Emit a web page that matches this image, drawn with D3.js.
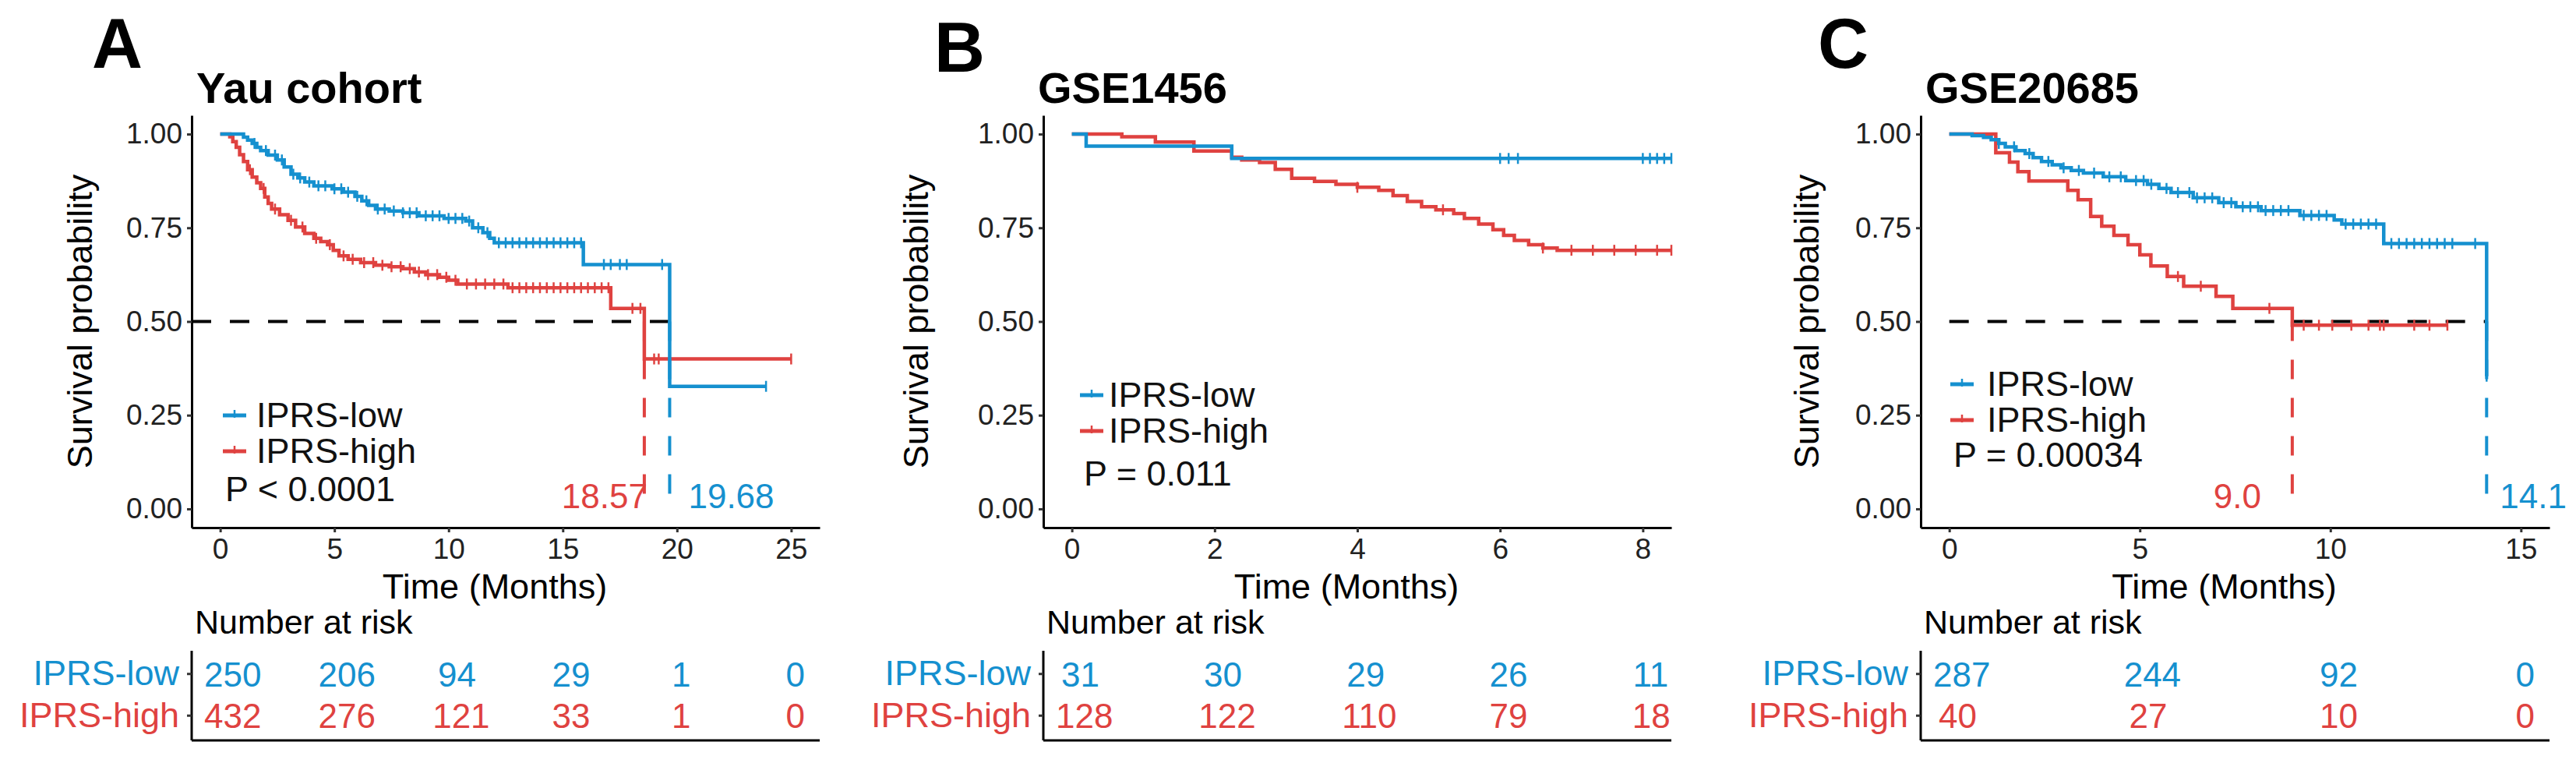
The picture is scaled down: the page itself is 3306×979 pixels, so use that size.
<!DOCTYPE html>
<html>
<head>
<meta charset="utf-8">
<script src="https://cdn.jsdelivr.net/npm/d3@7"></script>
<style>
  body { margin: 0; background: #fff; }
  text { font-family: 'Liberation Sans', Arial, sans-serif; }
</style>
</head>
<body>
<svg id="chart" width="3306" height="979"></svg>
<script>
const BLUE = '#1590cf'
const RED = '#df4240'
const groups = ['IPRS-low', 'IPRS-high']
const yTicks = [0, 0.25, 0.5, 0.75, 1]

// A: Yau cohort  ([time, survival] after each step)
const yauLowSteps = [[0, 1], [1.02, 0.992], [1.2, 0.984], [1.4, 0.975], [1.6, 0.965], [1.77, 0.956], [2.1, 0.944],
  [2.5, 0.931], [2.8, 0.912], [3.1, 0.893], [3.4, 0.883], [3.7, 0.872], [4.1, 0.862], [4.9, 0.854], [5.4, 0.845],
  [5.9, 0.834], [6.2, 0.822], [6.5, 0.81], [6.8, 0.8], [7.4, 0.795], [8.0, 0.79], [8.7, 0.782], [9.8, 0.775],
  [10.75, 0.768], [11.05, 0.75], [11.5, 0.737], [11.8, 0.722], [12.0, 0.71], [15.9, 0.652], [19.68, 0.327]]
const yauLowCensor = [1.5, 2.0, 2.4, 2.7, 3.2, 3.5, 3.9, 4.3, 4.6, 5.0, 5.3, 5.6, 6.0, 6.4, 6.9, 7.2, 7.6, 8.0, 8.3,
  8.6, 9.0, 9.3, 9.6, 10.0, 10.3, 10.6, 10.9, 11.3, 11.7, 12.2, 12.5, 12.8, 13.1, 13.4, 13.7, 14.0, 14.3, 14.6,
  14.9, 15.2, 15.5, 15.8, 16.8, 17.1, 17.5, 17.8, 19.35, 23.9]
const yauLowEnd = 23.9
const yauHighSteps = [[0, 1], [0.42, 0.993], [0.55, 0.98], [0.7, 0.965], [0.85, 0.945], [1.02, 0.927], [1.2, 0.905],
  [1.4, 0.885], [1.6, 0.87], [1.77, 0.855], [1.95, 0.832], [2.1, 0.815], [2.25, 0.8], [2.6, 0.785], [2.97, 0.77],
  [3.3, 0.752], [3.7, 0.735], [4.1, 0.722], [4.4, 0.713], [4.7, 0.705], [4.95, 0.69], [5.2, 0.675], [5.6, 0.666],
  [6.15, 0.657], [6.8, 0.65], [7.4, 0.646], [8.0, 0.641], [8.5, 0.632], [9.0, 0.625], [9.6, 0.618], [10.0, 0.61],
  [10.4, 0.6], [12.6, 0.59], [17.1, 0.535], [18.57, 0.4]]
const yauHighCensor = [1.3, 1.9, 2.4, 3.1, 3.6, 4.2, 4.8, 5.4, 5.8, 6.3, 6.7, 7.1, 7.5, 7.9, 8.3, 8.7, 9.1, 9.5, 9.9,
  10.3, 10.8, 11.2, 11.6, 12.0, 12.4, 12.8, 13.1, 13.4, 13.7, 14.0, 14.3, 14.6, 14.9, 15.2, 15.5, 15.8, 16.1, 16.4,
  16.7, 17.0, 18.05, 18.4, 19.0, 19.2, 25.0]
const yauHighEnd = 25.0
const yauMedians = [19.68, 18.57]
const yauTimes = [0, 5, 10, 15, 20, 25]
const yauRiskLow = [250, 206, 94, 29, 1, 0]
const yauRiskHigh = [432, 276, 121, 33, 1, 0]

// B: GSE1456
const gse1456LowSteps = [[0, 1], [0.2, 0.968], [2.24, 0.935]]
const gse1456LowCensor = [6.0, 6.12, 6.25, 8.0, 8.1, 8.2, 8.3, 8.4]
const gse1456LowEnd = 8.4
const gse1456HighSteps = [[0, 1], [0.7, 0.993], [1.17, 0.979], [1.71, 0.955], [2.24, 0.938], [2.38, 0.931],
  [2.63, 0.924], [2.85, 0.906], [3.08, 0.882], [3.4, 0.874], [3.7, 0.866], [4.0, 0.858], [4.3, 0.85], [4.5, 0.836],
  [4.7, 0.82], [4.9, 0.806], [5.1, 0.798], [5.35, 0.788], [5.5, 0.775], [5.7, 0.76], [5.9, 0.745], [6.05, 0.73],
  [6.2, 0.716], [6.4, 0.705], [6.6, 0.696], [6.8, 0.69]]
const gse1456HighCensor = [4.0, 5.2, 6.6, 7.0, 7.3, 7.6, 7.9, 8.2, 8.4]
const gse1456HighEnd = 8.4
const gse1456Times = [0, 2, 4, 6, 8]
const gse1456RiskLow = [31, 30, 29, 26, 11]
const gse1456RiskHigh = [128, 122, 110, 79, 18]

// C: GSE20685
const gse20685LowSteps = [[0, 1], [0.6, 0.996], [0.9, 0.991], [1.1, 0.985], [1.3, 0.975], [1.47, 0.966],
  [1.75, 0.956], [1.99, 0.948], [2.2, 0.937], [2.42, 0.927], [2.7, 0.918], [2.93, 0.91], [3.2, 0.903], [3.52, 0.896],
  [4.04, 0.886], [4.63, 0.876], [5.2, 0.866], [5.5, 0.855], [5.82, 0.844], [6.4, 0.83], [7.07, 0.817], [7.52, 0.806],
  [8.18, 0.796], [9.2, 0.783], [10.1, 0.771], [10.3, 0.76], [11.4, 0.708], [14.1, 0.354]]
const gse20685LowCensor = [1.3, 1.7, 2.1, 2.6, 3.0, 3.4, 3.8, 4.2, 4.5, 4.9, 5.1, 5.3, 5.7, 6.0, 6.3, 6.5, 6.7, 6.9,
  7.2, 7.4, 7.7, 7.9, 8.1, 8.3, 8.5, 8.7, 8.9, 9.3, 9.5, 9.7, 9.9, 10.4, 10.6, 10.8, 11.0, 11.2, 11.6, 11.8, 12.0,
  12.2, 12.4, 12.6, 12.8, 13.0, 13.2, 13.8, 14.1]
const gse20685LowEnd = 14.1
const gse20685HighSteps = [[0, 1], [1.22, 0.95], [1.58, 0.925], [1.8, 0.9], [2.09, 0.875], [3.11, 0.85],
  [3.38, 0.825], [3.71, 0.78], [4.0, 0.754], [4.32, 0.73], [4.69, 0.705], [5.0, 0.678], [5.29, 0.648], [5.72, 0.62],
  [6.15, 0.594], [7.0, 0.567], [7.44, 0.535], [9.0, 0.49]]
const gse20685HighCensor = [6.0, 6.6, 8.4, 9.3, 9.7, 10.05, 10.55, 11.0, 11.3, 11.4, 12.2, 12.6, 13.07]
const gse20685HighEnd = 13.07
const gse20685Medians = [14.1, 9.0]
const gse20685Times = [0, 5, 10, 15]
const gse20685RiskLow = [287, 244, 92, 0]
const gse20685RiskHigh = [40, 27, 10, 0]

const panels = [
  {
    letter: 'A', title: 'Yau cohort', p: 'P < 0.0001',
    low: { steps: yauLowSteps, censor: yauLowCensor, end: yauLowEnd },
    high: { steps: yauHighSteps, censor: yauHighCensor, end: yauHighEnd },
    medians: yauMedians, times: yauTimes, risk: [yauRiskLow, yauRiskHigh],
    left: 246, right: 1052, xDomain: [-1.25, 26.25], dashFrom: -1.25,
    letterX: 118, letterY: 87, titleX: 252, ylabX: 118,
    legX: 286, legTextX: 329, legY: 533, pX: 289, pY: 643, medLab: [[24, 'start'], [4, 'end']],
  },
  {
    letter: 'B', title: 'GSE1456', p: 'P = 0.011',
    low: { steps: gse1456LowSteps, censor: gse1456LowCensor, end: gse1456LowEnd },
    high: { steps: gse1456HighSteps, censor: gse1456HighCensor, end: gse1456HighEnd },
    medians: null, times: gse1456Times, risk: [gse1456RiskLow, gse1456RiskHigh],
    left: 1339, right: 2145, xDomain: [-0.4, 8.4], dashFrom: 0,
    letterX: 1199, letterY: 92, titleX: 1332, ylabX: 1191,
    legX: 1386, legTextX: 1423, legY: 507, pX: 1391, pY: 623, medLab: null,
  },
  {
    letter: 'C', title: 'GSE20685', p: 'P = 0.00034',
    low: { steps: gse20685LowSteps, censor: gse20685LowCensor, end: gse20685LowEnd },
    high: { steps: gse20685HighSteps, censor: gse20685HighCensor, end: gse20685HighEnd },
    medians: gse20685Medians, times: gse20685Times, risk: [gse20685RiskLow, gse20685RiskHigh],
    left: 2465, right: 3272, xDomain: [-0.75, 15.75], dashFrom: 0,
    letterX: 2333, letterY: 87, titleX: 2471, ylabX: 2334,
    legX: 2503, legTextX: 2550, legY: 493, pX: 2507, pY: 599, medLab: [[17, 'start'], [-40, 'end']],
  },
]

const svg = d3.select('#chart')
const plotTop = 148
const plotBottom = 677
const y = d3.scaleLinear().domain([-0.05, 1.05]).range([plotBottom, plotTop])

function survAt(steps, t) {
  let s = 1
  steps.forEach(([ti, si]) => { if (ti <= t) s = si })
  return s
}

function styleAxis(g) {
  g.select('.domain').attr('stroke', '#000').attr('stroke-width', 3)
  g.selectAll('.tick line').attr('stroke', '#333').attr('stroke-width', 3)
  g.selectAll('.tick text').attr('fill', '#222').style('font-size', '37px')
    .style('font-family', "'Liberation Sans', Arial, sans-serif")
}

function drawPanel(p) {
  const x = d3.scaleLinear().domain(p.xDomain).range([p.left, p.right])
  const g = svg.append('g')

  g.append('text').attr('x', p.letterX).attr('y', p.letterY)
    .style('font-size', '90px').style('font-weight', 'bold').text(p.letter)
  g.append('text').attr('x', p.titleX).attr('y', 132)
    .style('font-size', '56px').style('font-weight', 'bold').text(p.title)

  // axes
  g.append('g').attr('transform', `translate(${p.left},0)`)
    .call(d3.axisLeft(y).tickValues(yTicks).tickFormat(d3.format('.2f')).tickSize(6).tickPadding(6).tickSizeOuter(0))
    .call(styleAxis)
  g.append('g').attr('transform', `translate(0,${plotBottom})`)
    .call(d3.axisBottom(x).tickValues(p.times).tickSize(6).tickPadding(8).tickSizeOuter(0))
    .call(styleAxis)

  g.append('text')
    .attr('transform', `translate(${p.ylabX},${(plotTop + plotBottom) / 2}) rotate(-90)`)
    .attr('text-anchor', 'middle').style('font-size', '45px').text('Survival probability')
  g.append('text').attr('x', (p.left + p.right) / 2 - 14).attr('y', 768)
    .attr('text-anchor', 'middle').style('font-size', '45px').text('Time (Months)')

  // median lines
  if (p.medians) {
    const mx = d3.max(p.medians)
    g.append('line').attr('x1', x(p.dashFrom)).attr('x2', x(mx)).attr('y1', y(0.5)).attr('y2', y(0.5))
      .attr('stroke', '#000').attr('stroke-width', 4).attr('stroke-dasharray', '25 24')
    p.medians.forEach((m, i) => {
      g.append('line').attr('x1', x(m)).attr('x2', x(m)).attr('y1', y(0.5)).attr('y2', y(0))
        .attr('stroke', i === 0 ? BLUE : RED).attr('stroke-width', 4).attr('stroke-dasharray', '25 24')
    })
  }

  // survival curves with censor marks
  const line = d3.line().x((d) => x(d[0])).y((d) => y(d[1])).curve(d3.curveStepAfter)
  ;[[p.high, RED], [p.low, BLUE]].forEach(([grp, col]) => {
    const pts = grp.steps.concat([[grp.end, grp.steps[grp.steps.length - 1][1]]])
    g.append('path').attr('d', line(pts)).attr('fill', 'none')
      .attr('stroke', col).attr('stroke-width', 4.5)
    g.selectAll(null).data(grp.censor).enter().append('line')
      .attr('x1', (d) => x(d)).attr('x2', (d) => x(d))
      .attr('y1', (d) => y(survAt(grp.steps, d)) - 7).attr('y2', (d) => y(survAt(grp.steps, d)) + 7)
      .attr('stroke', col).attr('stroke-width', 2.5)
  })

  if (p.medians) {
    p.medians.forEach((m, i) => {
      g.append('text').attr('x', x(m) + p.medLab[i][0]).attr('y', 652)
        .attr('text-anchor', p.medLab[i][1]).attr('fill', i === 0 ? BLUE : RED)
        .style('font-size', '44px').text(m.toFixed(m < 10 || m === 14.1 ? 1 : 2))
    })
  }

  // legend
  ;[BLUE, RED].forEach((col, i) => {
    const ly = p.legY + i * 46
    g.append('line').attr('x1', p.legX).attr('x2', p.legX + 30).attr('y1', ly).attr('y2', ly)
      .attr('stroke', col).attr('stroke-width', 5)
    g.append('line').attr('x1', p.legX + 15).attr('x2', p.legX + 15).attr('y1', ly - 7).attr('y2', ly + 3)
      .attr('stroke', col).attr('stroke-width', 2.5)
    g.append('text').attr('x', p.legTextX).attr('y', ly + 15)
      .style('font-size', '45px').attr('fill', '#111').text(groups[i])
  })
  g.append('text').attr('x', p.pX).attr('y', p.pY).style('font-size', '45px').attr('fill', '#111').text(p.p)

  // risk table
  g.append('text').attr('x', p.left + 4).attr('y', 813).style('font-size', '43px').text('Number at risk')
  const ry = d3.scaleBand().domain(groups).range([838, 945])
  const ra = g.append('g').attr('transform', `translate(${p.left},0)`)
    .call(d3.axisLeft(ry).tickSize(6).tickPadding(10).tickSizeOuter(0))
    .call(styleAxis)
  ra.selectAll('.tick text').style('font-size', '45px').attr('fill', (d) => (d === groups[0] ? BLUE : RED))
  ra.select('.domain').attr('d', 'M0,835V950')
  g.append('line').attr('x1', p.left).attr('x2', p.right).attr('y1', 950).attr('y2', 950)
    .attr('stroke', '#000').attr('stroke-width', 3)
  p.risk.forEach((row, i) => {
    g.selectAll(null).data(row).enter().append('text')
      .attr('y', ry(groups[i]) + ry.bandwidth() / 2 + 16)
      .attr('fill', i === 0 ? BLUE : RED)
      .style('font-size', '44px').text((d) => d)
      .attr('x', function (d, j) { return x(p.times[j]) - 0.28 * this.getComputedTextLength() })
  })
}

panels.forEach(drawPanel)
</script>
</body>
</html>
